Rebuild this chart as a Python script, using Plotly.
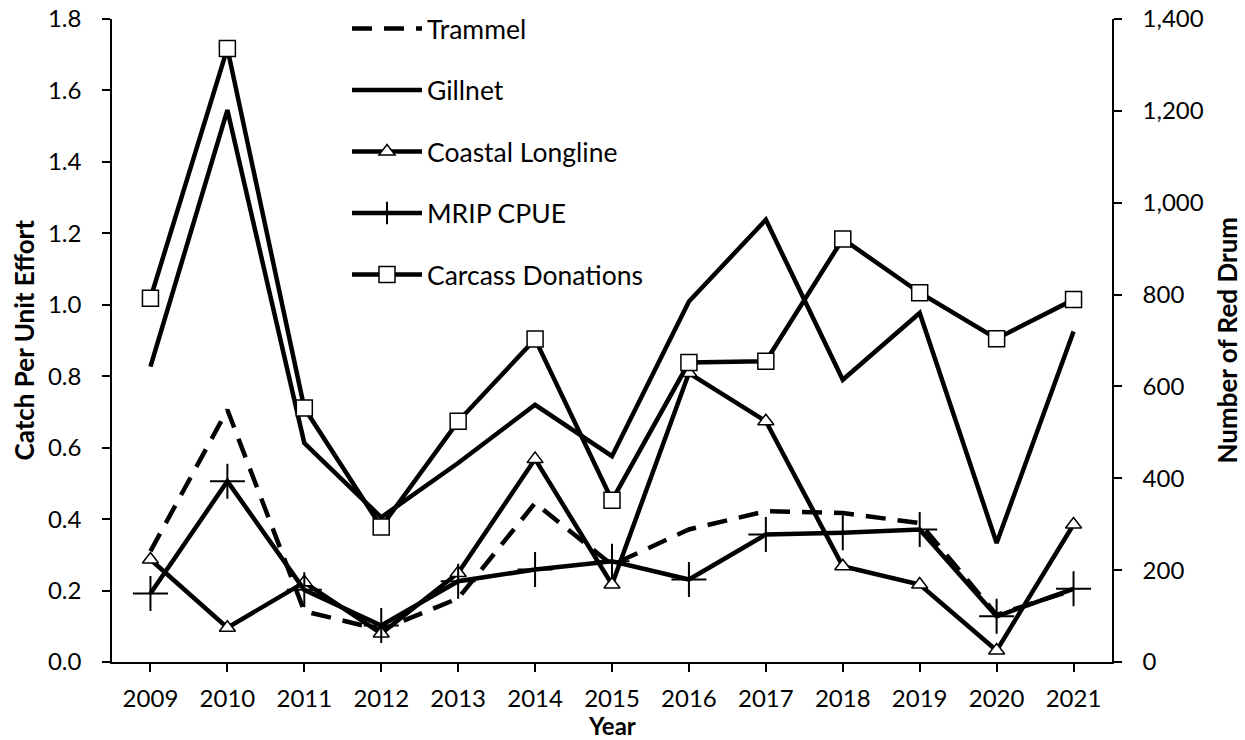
import plotly.graph_objects as go

years = [2009, 2010, 2011, 2012, 2013, 2014, 2015, 2016, 2017, 2018, 2019, 2020, 2021]
year_labels = [str(y) for y in years]

trammel = [0.31, 0.706, 0.142, 0.09, 0.178, 0.445, 0.272, 0.371, 0.422, 0.417, 0.389, 0.132, 0.202]
gillnet = [0.827, 1.545, 0.613, 0.405, 0.557, 0.720, 0.576, 1.009, 1.238, 0.790, 0.977, 0.333, 0.925]
coastal_longline = [0.287, 0.096, 0.223, 0.080, 0.249, 0.568, 0.217, 0.809, 0.674, 0.268, 0.217, 0.032, 0.385]
mrip_cpue = [0.192, 0.506, 0.202, 0.102, 0.226, 0.259, 0.282, 0.231, 0.357, 0.362, 0.371, 0.128, 0.205]
carcass_donations = [792, 1336, 553, 294, 524, 703, 352, 652, 655, 921, 804, 704, 789]

left_ticks = [0.0, 0.2, 0.4, 0.6, 0.8, 1.0, 1.2, 1.4, 1.6, 1.8]
right_ticks = [0, 200, 400, 600, 800, 1000, 1200, 1400]

FONT = "Lato"
LW = 4.5

fig = go.Figure()

fig.add_trace(go.Scatter(
    x=years, y=trammel, name="Trammel", mode="lines", legendgroup="a",
    line=dict(color="black", width=LW, dash="20px,12px"),
))
fig.add_trace(go.Scatter(
    x=years, y=gillnet, name="Gillnet", mode="lines", legendgroup="b",
    line=dict(color="black", width=LW),
))
fig.add_trace(go.Scatter(
    x=years, y=coastal_longline, name="Coastal Longline", mode="lines+markers", legendgroup="c",
    line=dict(color="black", width=LW),
    marker=dict(symbol="triangle-up", size=14, color="white", line=dict(color="black", width=1.5)),
))
fig.add_trace(go.Scatter(
    x=years, y=mrip_cpue, name="MRIP CPUE", mode="lines+markers", legendgroup="d",
    line=dict(color="black", width=LW),
    marker=dict(symbol="cross-thin", size=25, color="black", line=dict(color="black", width=2)),
))
fig.add_trace(go.Scatter(
    x=years, y=carcass_donations, name="Carcass Donations", mode="lines+markers", legendgroup="e",
    yaxis="y2",
    line=dict(color="black", width=LW),
    marker=dict(symbol="square", size=16, color="white", line=dict(color="black", width=1.5)),
))

axis_common = dict(
    showline=True, linecolor="black", linewidth=1.5,
    ticks="outside", ticklen=8, tickwidth=1.5, tickcolor="black",
    showgrid=False, zeroline=False, automargin=False,
    tickfont=dict(size=24, family=FONT, color="black"),
)

fig.update_layout(
    width=1245, height=740,
    margin=dict(l=112, r=133, t=19, b=78, autoexpand=False),
    paper_bgcolor="white", plot_bgcolor="white",
    font=dict(family=FONT, size=24, color="black"),
    showlegend=True,
    legend=dict(
        x=0.235, y=1.022, xanchor="left", yanchor="top",
        bgcolor="rgba(0,0,0,0)", font=dict(size=26.5, family=FONT),
        tracegroupgap=24, itemwidth=70,
    ),
    xaxis=dict(
        range=[2008.5, 2021.5], tickvals=years, ticktext=year_labels,
        ticklabelstandoff=6, **axis_common,
    ),
    yaxis=dict(
        range=[0, 1.8], tickvals=left_ticks, tickformat=".1f",
        ticklabelstandoff=16, **axis_common,
    ),
    yaxis2=dict(
        range=[0, 1400], tickvals=right_ticks, tickformat=",d",
        overlaying="y", side="right",
        ticklabelstandoff=16, **axis_common,
    ),
    annotations=[
        dict(text="<b>Year</b>", xref="paper", yref="paper", x=0.5, y=-0.0985,
             xanchor="center", yanchor="middle", showarrow=False,
             font=dict(size=24, family=FONT)),
        dict(text="<b>Catch Per Unit Effort</b>", xref="paper", yref="paper", x=-0.089, y=0.5,
             xanchor="center", yanchor="middle", showarrow=False, textangle=-90,
             font=dict(size=26, family=FONT)),
        dict(text="<b>Number of Red Drum</b>", xref="paper", yref="paper", x=1.114, y=0.5,
             xanchor="center", yanchor="middle", showarrow=False, textangle=-90,
             font=dict(size=26, family=FONT)),
    ],
)

fig.write_html(
    "out.html",
    config={"displayModeBar": False},
    post_script="document.body.style.margin='0';document.body.style.overflow='hidden';",
)
